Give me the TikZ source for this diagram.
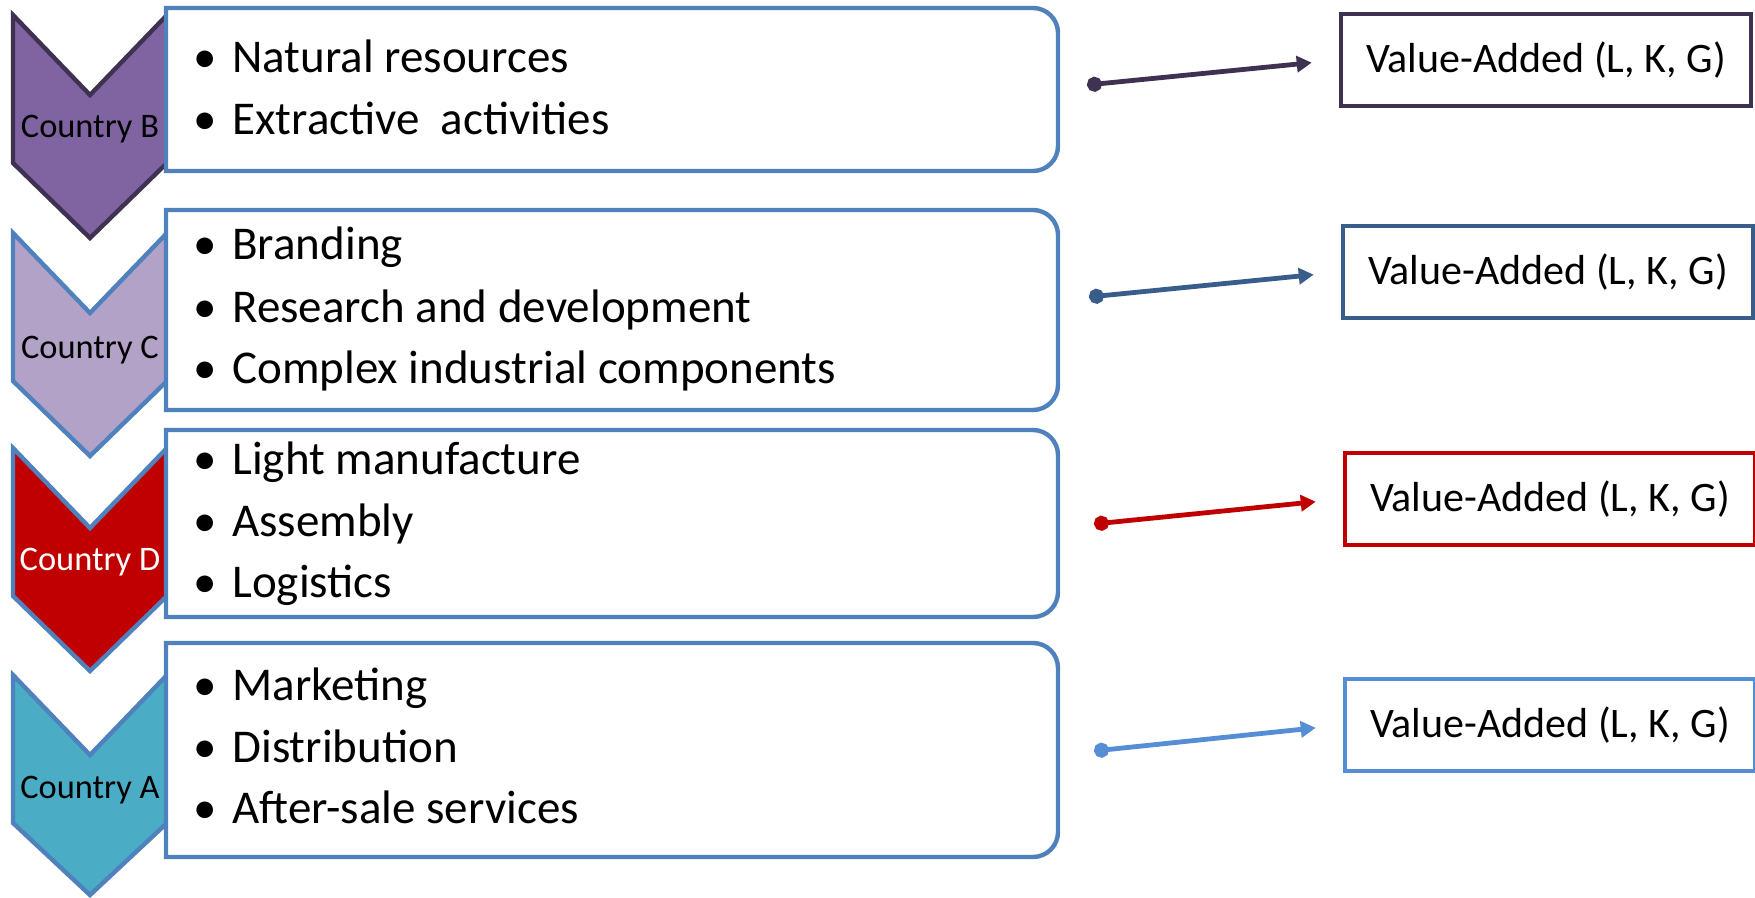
\documentclass[tikz,border=0pt]{standalone}
\usepackage{fontspec}
\setmainfont{Carlito}
\usepackage{tikz}
\usetikzlibrary{arrows.meta}

\definecolor{boxblue}{HTML}{4F81BD}
\definecolor{plumdark}{HTML}{3F3151}
\definecolor{plumfill}{HTML}{8064A2}
\definecolor{lilacfill}{HTML}{B3A2C7}
\definecolor{redfill}{HTML}{C00000}
\definecolor{cyanfill}{HTML}{4BACC6}
\definecolor{steelblue}{HTML}{385D8A}
\definecolor{skyblue}{HTML}{558ED5}

\newcommand{\bul}{\makebox[19.5pt][l]{\textbullet}}

\tikzset{
	chevron/.style={line width=2.2pt, line join=miter},
	actbox/.style={draw=boxblue, line width=2.2pt, fill=white},
	actitem/.style={anchor=base west, inner sep=0pt, font=\fontsize{23.5}{28}\selectfont},
	country/.style={anchor=base, inner sep=0pt, font=\fontsize{17.2}{20}\selectfont},
	vabox/.style={draw, line width=2.4pt, minimum width=205pt, minimum height=46pt, inner sep=0pt, font=\fontsize{21}{25}\selectfont},
	va/.style={line width=2.4pt, {Circle[length=7.5pt]}-{Triangle[length=7.5pt,width=8pt]}, shorten >=13.5pt}
}

\begin{document}
\begin{tikzpicture}[x=0.5pt,y=0.5pt]
	\useasboundingbox (0,0) rectangle (1755,-898);

	% chevrons
	\draw[chevron, draw=plumdark, fill=plumfill] (13,-15) -- (90,-95) -- (167,-15) -- (167,-163) -- (90,-238) -- (13,-163) -- cycle;
	\draw[chevron, draw=boxblue, fill=lilacfill] (13,-233) -- (90,-313) -- (167,-233) -- (167,-381) -- (90,-456) -- (13,-381) -- cycle;
	\draw[chevron, draw=boxblue, fill=redfill] (13,-448) -- (90,-528) -- (167,-448) -- (167,-596) -- (90,-671) -- (13,-596) -- cycle;
	\draw[chevron, draw=boxblue, fill=cyanfill] (13,-675) -- (90,-755) -- (167,-675) -- (167,-823) -- (90,-895) -- (13,-823) -- cycle;
	\node[country] (cB) at (90,-138) {Country B};
	\node[country] (cC) at (90,-358) {Country C};
	\node[country, text=white] (cD) at (90,-570) {Country D};
	\node[country] (cA) at (90,-798) {Country A};

	% activity boxes
	\draw[actbox] (166,-8) -- (1033,-8) arc[start angle=90,end angle=0,radius=25] -- (1058,-146) arc[start angle=0,end angle=-90,radius=25] -- (166,-171) -- cycle;
	\draw[actbox] (166,-210) -- (1033,-210) arc[start angle=90,end angle=0,radius=25] -- (1058,-385) arc[start angle=0,end angle=-90,radius=25] -- (166,-410) -- cycle;
	\draw[actbox] (166,-430) -- (1033,-430) arc[start angle=90,end angle=0,radius=25] -- (1058,-592) arc[start angle=0,end angle=-90,radius=25] -- (166,-617) -- cycle;
	\draw[actbox] (166,-643) -- (1033,-643) arc[start angle=90,end angle=0,radius=25] -- (1058,-832) arc[start angle=0,end angle=-90,radius=25] -- (166,-857) -- cycle;

	\node[actitem] (b1) at (193,-73) {\bul Natural resources};
	\node[actitem] (b2) at (193,-135) {\bul Extractive\ \ activities};
	\node[actitem] (c1) at (193,-260) {\bul Branding};
	\node[actitem] (c2) at (193,-323) {\bul Research and development};
	\node[actitem] (c3) at (193,-384) {\bul Complex industrial components};
	\node[actitem] (d1) at (193,-474) {\bul Light manufacture};
	\node[actitem] (d2) at (193,-536) {\bul Assembly};
	\node[actitem] (d3) at (193,-597) {\bul Logistics};
	\node[actitem] (a1) at (193,-700) {\bul Marketing};
	\node[actitem] (a2) at (193,-762) {\bul Distribution};
	\node[actitem] (a3) at (193,-823) {\bul After-sale services};

	% value added
	\node[vabox, draw=plumdark] (vaB) at (1546,-60) {Value-Added (L, K, G)};
	\node[vabox, draw=steelblue] (vaC) at (1548,-272) {Value-Added (L, K, G)};
	\node[vabox, draw=redfill] (vaD) at (1550,-499) {Value-Added (L, K, G)};
	\node[vabox, draw=skyblue] (vaA) at (1550,-725) {Value-Added (L, K, G)};

	\coordinate (dB) at (1087,-85);
	\coordinate (dC) at (1089,-297);
	\coordinate (dD) at (1094,-524);
	\coordinate (dA) at (1094,-751);
	\draw[va, plumdark] (dB) -- (vaB.west);
	\draw[va, steelblue] (dC) -- (vaC.west);
	\draw[va, redfill] (dD) -- (vaD.west);
	\draw[va, skyblue] (dA) -- (vaA.west);
\end{tikzpicture}
\end{document}
